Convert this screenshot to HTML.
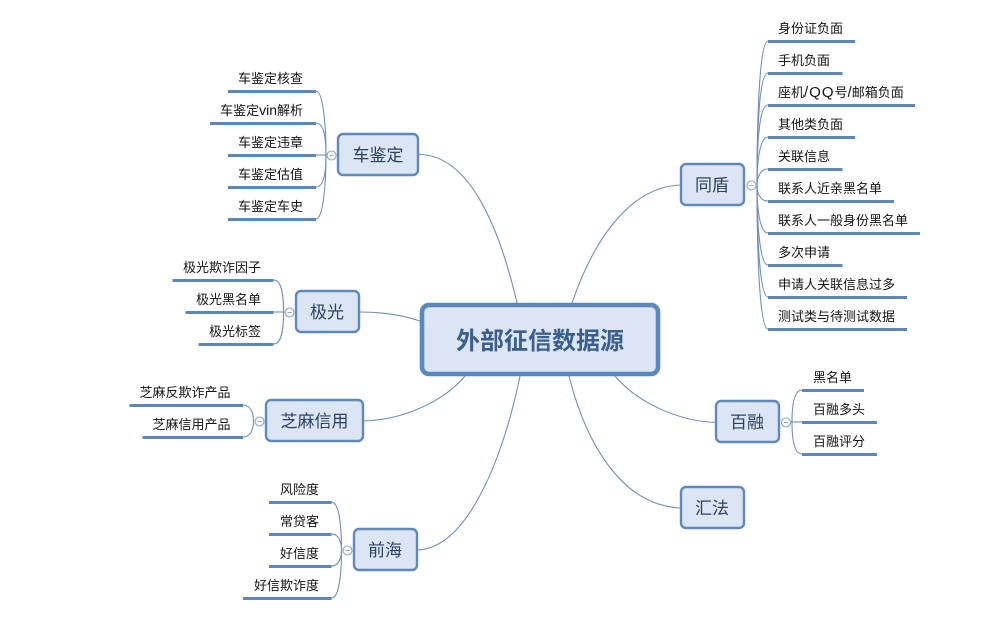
<!DOCTYPE html>
<html><head><meta charset="utf-8"><style>
html,body{margin:0;padding:0;background:#fff;width:1004px;height:637px;overflow:hidden}
svg{display:block}
text{font-family:"Liberation Sans","Noto Sans CJK SC",sans-serif}
.l{font-size:13px;fill:#141414}
.e{text-anchor:end}
.n{font-size:17px;fill:#2c4160;text-anchor:middle}
.r{fill:#dbe5f3;stroke:#5f88bd;stroke-width:2.4}
.b{stroke:#5b87bd;stroke-width:3;fill:none}
.c{stroke:#6f90b8;stroke-width:1.1;fill:none}
.m{stroke:#8aa6c8;stroke-width:1.1;fill:#fff}
.d{stroke:#8aa6c8;stroke-width:1;fill:none}
</style></head><body>
<svg width="1004" height="637" viewBox="0 0 1004 637" xmlns="http://www.w3.org/2000/svg">
<!-- main connectors -->
<g class="c">
<path d="M418.5,154.5C470,154 500,230 517,303"/>
<path d="M359.5,312C385,312 405,316 420,321"/>
<path d="M363.5,421C405,420 445,400 465,376"/>
<path d="M417.5,550C470,548 505,450 520,376"/>
<path d="M680.5,185C625,187 590,250 572,303"/>
<path d="M715.5,422.500C675,421 635,400 615,376"/>
<path d="M680,508C620,505 585,440 569,376"/>
</g>
<!-- central -->
<rect x="422" y="305" width="236" height="69" rx="7" fill="#dbe5f3" stroke="#5b87c0" stroke-width="4.6"/>
<text x="540" y="349" font-size="24" font-weight="700" fill="#3a5f8e" text-anchor="middle">外部征信数据源</text>
<!-- 车鉴定 -->
<g class="c">
<path d="M326,155C326,125 323,91 316,91"/>
<path d="M326,155C326,135 323,123 316,123"/>
<path d="M316,155H327"/>
<path d="M326,155C326,175 323,187 316,187"/>
<path d="M326,155C326,185 323,219 316,219"/>
</g>
<g class="b">
<path d="M228,91.500H316M210,123.500H316M228,155.500H316M228,187.500H316M228,219.500H316"/>
</g>
<g class="l e">
<text x="303" y="83">车鉴定核查</text>
<text x="303" y="115">车鉴定<tspan font-size="14">vin</tspan>解析</text>
<text x="303" y="147">车鉴定违章</text>
<text x="303" y="179">车鉴定估值</text>
<text x="303" y="211">车鉴定车史</text>
</g>
<circle class="m" cx="331.500" cy="155.500" r="4.500"/><path class="d" d="M329.500,155.500h4"/>
<rect class="r" x="338" y="134" width="80" height="41" rx="5"/>
<text class="n" x="378" y="161">车鉴定</text>
<!-- 极光 -->
<g class="c">
<path d="M283.500,312C283.500,292 281,280 273.500,280"/>
<path d="M273.500,312H285"/>
<path d="M283.500,312C283.500,332 281,344 273.500,344"/>
</g>
<g class="b"><path d="M172.500,280.500H273.500M185.500,312.500H273.500M198.500,344.500H273.500"/></g>
<g class="l e">
<text x="261" y="272">极光欺诈因子</text>
<text x="261" y="304">极光黑名单</text>
<text x="261" y="336">极光标签</text>
</g>
<circle class="m" cx="289.500" cy="312.500" r="4.500"/><path class="d" d="M287.500,312.500h4"/>
<rect class="r" x="296" y="291" width="63" height="41" rx="5"/>
<text class="n" x="327" y="318">极光</text>
<!-- 芝麻信用 -->
<g class="c">
<path d="M253.500,421C253.500,412 250,405 243,405"/>
<path d="M253.500,421C253.500,430 250,437 243,437"/>
</g>
<g class="b"><path d="M129.500,405.500H243M142.500,437.500H243"/></g>
<g class="l e">
<text x="230.500" y="397">芝麻反欺诈产品</text>
<text x="230.500" y="429">芝麻信用产品</text>
</g>
<circle class="m" cx="259.500" cy="421.500" r="4.500"/><path class="d" d="M257.500,421.500h4"/>
<rect class="r" x="266" y="400" width="97" height="41" rx="5"/>
<text class="n" x="314.500" y="427">芝麻信用</text>
<!-- 前海 -->
<g class="c">
<path d="M341.500,550C341.500,525 339,502 331.500,502"/>
<path d="M341.500,550C341.500,545 340,534 331.500,534"/>
<path d="M341.500,550C341.500,555 340,566 331.500,566"/>
<path d="M341.500,550C341.500,575 339,598 331.500,598"/>
</g>
<g class="b"><path d="M269,502.500H331.500M269,534.500H331.500M269,566.500H331.500M243,598.500H331.500"/></g>
<g class="l e">
<text x="319" y="494">风险度</text>
<text x="319" y="526">常贷客</text>
<text x="319" y="558">好信度</text>
<text x="319" y="590">好信欺诈度</text>
</g>
<circle class="m" cx="347.500" cy="550.500" r="4.500"/><path class="d" d="M345.500,550.500h4"/>
<rect class="r" x="354" y="529" width="63" height="41" rx="5"/>
<text class="n" x="385" y="556">前海</text>
<!-- 同盾 -->
<g class="c">
<path d="M757,185.500C757,110 760,41 768,41"/>
<path d="M757,185.500C757,120 760,73 768,73"/>
<path d="M757,185.500C757,135 760,105 768,105"/>
<path d="M757,185.500C757,160 760,137 768,137"/>
<path d="M757,185.500C757,178 760,169 768,169"/>
<path d="M757,185.500C757,193 760,201 768,201"/>
<path d="M757,185.500C757,210 760,233 768,233"/>
<path d="M757,185.500C757,225 760,265 768,265"/>
<path d="M757,185.500C757,240 760,297 768,297"/>
<path d="M757,185.500C757,260 760,329 768,329"/>
</g>
<g class="b"><path d="M768,41.500H855M768,73.500H842.500M768,105.500H915M768,137.500H855M768,169.500H842.500M768,201.500H894M768,233.500H920M768,265.500H842.500M768,297.500H907M768,329.500H907"/></g>
<g class="l">
<text x="778" y="33">身份证负面</text>
<text x="778" y="65">手机负面</text>
<text x="778" y="97">座机<tspan font-size="15" letter-spacing="1">/QQ</tspan>号<tspan font-size="15">/</tspan>邮箱负面</text>
<text x="778" y="129">其他类负面</text>
<text x="778" y="161">关联信息</text>
<text x="778" y="193">联系人近亲黑名单</text>
<text x="778" y="225">联系人一般身份黑名单</text>
<text x="778" y="257">多次申请</text>
<text x="778" y="289">申请人关联信息过多</text>
<text x="778" y="321">测试类与待测试数据</text>
</g>
<circle class="m" cx="751.500" cy="185.500" r="4.500"/><path class="d" d="M749.500,185.500h4"/>
<rect class="r" x="681" y="164" width="63" height="41" rx="5"/>
<text class="n" x="712" y="191">同盾</text>
<!-- 百融 -->
<g class="c">
<path d="M792,422C792,402 795,390 802,390"/>
<path d="M790,422H802"/>
<path d="M792,422C792,442 795,454 802,454"/>
</g>
<g class="b"><path d="M802,390.500H864M802,422.500H877M802,454.500H877"/></g>
<g class="l">
<text x="813" y="382">黑名单</text>
<text x="813" y="414">百融多头</text>
<text x="813" y="446">百融评分</text>
</g>
<circle class="m" cx="786" cy="422.500" r="4.500"/><path class="d" d="M784,422.500h4"/>
<rect class="r" x="716" y="401" width="63" height="41" rx="5"/>
<text class="n" x="747" y="428">百融</text>
<!-- 汇法 -->
<rect class="r" x="681" y="487" width="63" height="41" rx="5"/>
<text class="n" x="712" y="514">汇法</text>
</svg>
</body></html>
